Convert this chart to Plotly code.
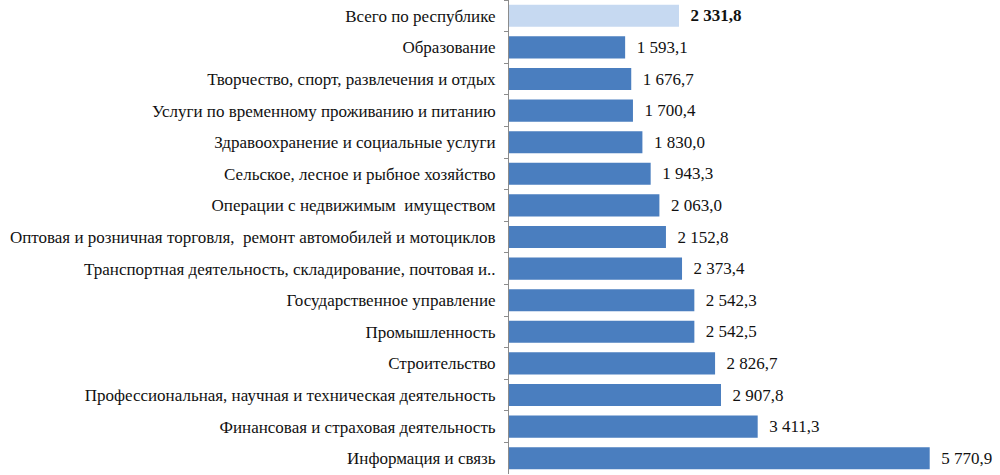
import plotly.graph_objects as go

categories = [
    "Всего по республике",
    "Образование",
    "Творчество, спорт, развлечения и отдых",
    "Услуги по временному проживанию и питанию",
    "Здравоохранение и социальные услуги",
    "Сельское, лесное и рыбное хозяйство",
    "Операции с недвижимым  имуществом",
    "Оптовая и розничная торговля,  ремонт автомобилей и мотоциклов",
    "Транспортная деятельность, складирование, почтовая и..",
    "Государственное управление",
    "Промышленность",
    "Строительство",
    "Профессиональная, научная и техническая деятельность",
    "Финансовая и страховая деятельность",
    "Информация и связь",
]
values = [2331.8, 1593.1, 1676.7, 1700.4, 1830.0, 1943.3, 2063.0, 2152.8,
          2373.4, 2542.3, 2542.5, 2826.7, 2907.8, 3411.3, 5770.9]
value_labels = ["2 331,8", "1 593,1", "1 676,7", "1 700,4", "1 830,0", "1 943,3",
                "2 063,0", "2 152,8", "2 373,4", "2 542,3", "2 542,5", "2 826,7",
                "2 907,8", "3 411,3", "5 770,9"]

SERIF = "Liberation Serif"

colors = ["#c6d9f1"] + ["#4a7ebf"] * (len(values) - 1)
texts = ["  <b>" + value_labels[0] + "</b>"] + ["  " + v for v in value_labels[1:]]

fig = go.Figure(go.Bar(
    y=categories,
    x=values,
    orientation="h",
    marker=dict(color=colors, line=dict(width=0)),
    text=texts,
    textposition="outside",
    textfont=dict(family=SERIF, size=17, color="#111111"),
    cliponaxis=False,
    hoverinfo="skip",
))

fig.update_layout(
    width=1000,
    height=475,
    margin=dict(l=509, r=0, t=0, b=1),
    paper_bgcolor="white",
    plot_bgcolor="white",
    bargap=0.3,
    showlegend=False,
    font=dict(family=SERIF, size=17, color="#111111"),
)
fig.update_xaxes(range=[0, 6735], visible=False, showgrid=False)
fig.update_yaxes(
    autorange="reversed",
    showline=True,
    linecolor="#8c8c8c",
    linewidth=1,
    ticks="outside",
    tickson="boundaries",
    ticklen=4,
    tickcolor="#8c8c8c",
    showgrid=False,
    ticklabelstandoff=9,
    tickfont=dict(family=SERIF, size=17, color="#111111"),
)

fig.write_html("out.html")
